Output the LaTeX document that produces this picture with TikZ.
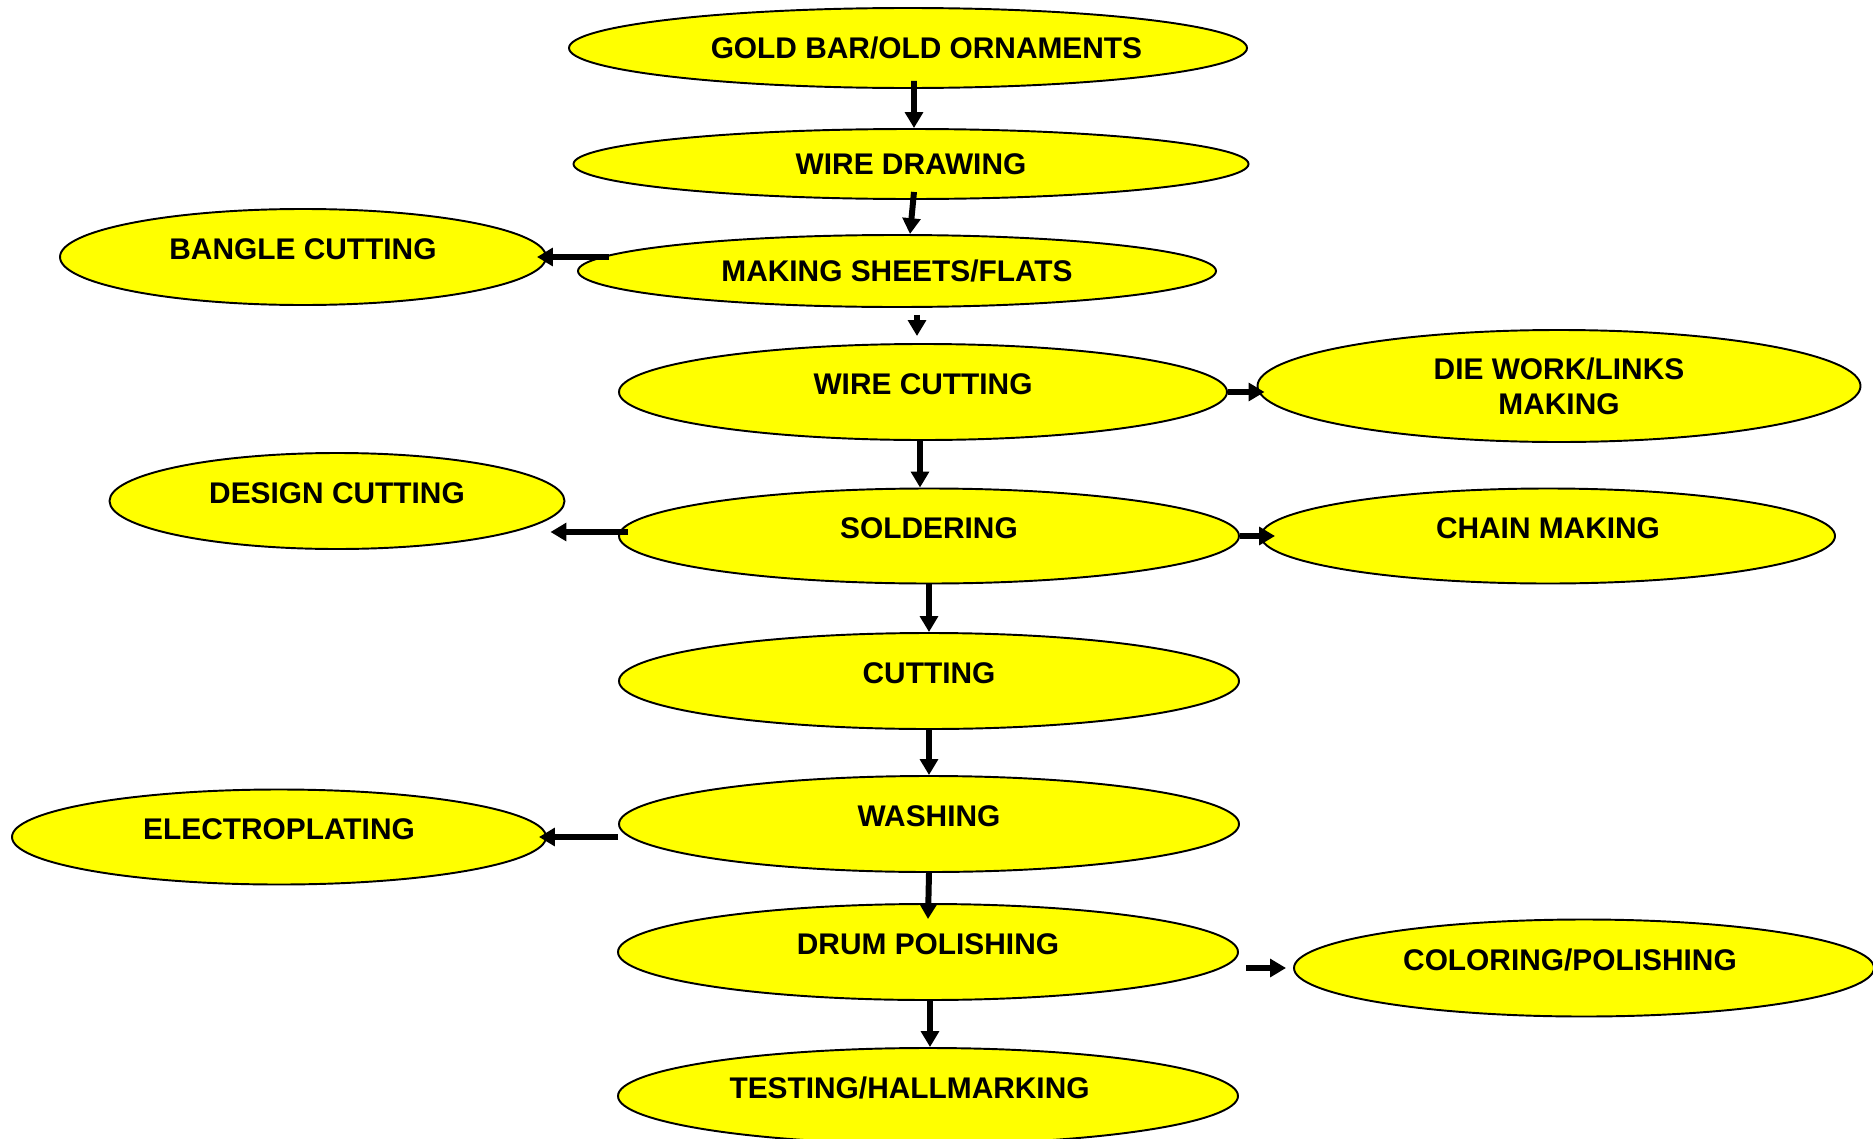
\documentclass[tikz,border=0pt]{standalone}
\usepackage{fontspec}
\setmainfont{Liberation Sans}
\usetikzlibrary{arrows.meta, shapes.geometric, calc}
\definecolor{procyellow}{HTML}{FFFF00}

\begin{document}
\begin{tikzpicture}[
  x=0.02cm, y=-0.02cm,
  procbox/.style={ellipse, draw=black, fill=procyellow, line width=1.1pt, inner sep=0pt, align=center, font=\bfseries\fontsize{17}{20}\selectfont},
  lift/.style={text height=12pt, text depth=9pt},
  flowarrow/.style={-{Triangle[length=9pt, width=10pt]}, line width=3.4pt, black},
]
\useasboundingbox (0,0) rectangle (1873,1139);

% Main line
\node[procbox, minimum width=678*0.02cm, minimum height=80*0.02cm] (gold) at (908, 48) {\hspace*{21pt}GOLD BAR/OLD ORNAMENTS};
\node[procbox, minimum width=675*0.02cm, minimum height=70*0.02cm] (wdraw) at (911, 164) {WIRE DRAWING};
\node[procbox, minimum width=638*0.02cm, minimum height=72*0.02cm] (sheets) at (897, 271) {MAKING SHEETS/FLATS};
\node[procbox, lift, minimum width=608*0.02cm, minimum height=96*0.02cm] (wcut) at (923, 392) {WIRE CUTTING};
\node[procbox, lift, minimum width=620*0.02cm, minimum height=95*0.02cm] (solder) at (929, 536) {SOLDERING};
\node[procbox, lift, minimum width=620*0.02cm, minimum height=96*0.02cm] (cutting) at (929, 681) {CUTTING};
\node[procbox, lift, minimum width=620*0.02cm, minimum height=96*0.02cm] (washing) at (929, 824) {WASHING};
\node[procbox, lift, minimum width=620*0.02cm, minimum height=96*0.02cm] (drum) at (928, 952) {DRUM POLISHING};
\node[procbox, lift, minimum width=620*0.02cm, minimum height=96*0.02cm] (testing) at (928, 1096) {TESTING/HALLMARKING\hspace*{21pt}};

% Side branches
\node[procbox, lift, minimum width=486*0.02cm, minimum height=96*0.02cm] (bangle) at (303, 257) {BANGLE CUTTING};
\node[procbox, minimum width=603*0.02cm, minimum height=112*0.02cm] (diework) at (1559, 386) {DIE WORK/LINKS\\MAKING};
\node[procbox, lift, minimum width=455*0.02cm, minimum height=96*0.02cm] (design) at (337, 501) {DESIGN CUTTING};
\node[procbox, lift, minimum width=574*0.02cm, minimum height=95*0.02cm] (chain) at (1548, 536) {CHAIN MAKING};
\node[procbox, lift, minimum width=534*0.02cm, minimum height=95*0.02cm] (electro) at (279, 837) {ELECTROPLATING};
\node[procbox, lift, minimum width=580*0.02cm, minimum height=97*0.02cm] (coloring) at (1584, 968) {COLORING/POLISHING\hspace*{16pt}};

% Down the main line
\draw[flowarrow] ([xshift=0.12cm, yshift=0.16cm]gold.south) -- ([xshift=0.06cm]wdraw.north);
\draw[flowarrow] ([xshift=0.06cm, yshift=0.16cm]wdraw.south) -- ([xshift=0.26cm]sheets.north);
\draw[flowarrow, shorten <=4pt, shorten >=4pt] ([xshift=-0.12cm]wcut.north |- sheets.south) -- ([xshift=-0.12cm]wcut.north);
\draw[flowarrow] ([xshift=-0.06cm]wcut.south) -- ([xshift=-0.18cm]solder.north);
\draw[flowarrow] (solder.south) -- (cutting.north);
\draw[flowarrow] (cutting.south) -- (washing.north);
\draw[flowarrow] (washing.south) -- ([yshift=-0.32cm]drum.north);
\draw[flowarrow] ([xshift=0.04cm]drum.south) -- ([xshift=0.04cm]testing.north);

% Branches
\draw[flowarrow] ([xshift=0.64cm]sheets.west |- bangle.east) -- ([xshift=-0.2cm]bangle.east);
\draw[flowarrow] (wcut.east) -- ([xshift=0.16cm]wcut.east -| diework.west);
\draw[flowarrow] ([xshift=0.2cm, yshift=0.08cm]solder.west) -- ([xshift=-0.3cm, yshift=0.08cm]design.east |- solder.west);
\draw[flowarrow] (solder.east) -- ([xshift=0.3cm]chain.west);
\draw[flowarrow] (washing.west |- electro.east) -- ([xshift=-0.16cm]electro.east);
\draw[flowarrow, shorten <=4pt, shorten >=4pt] (drum.east |- coloring.west) -- (coloring.west);

\end{tikzpicture}
\end{document}
